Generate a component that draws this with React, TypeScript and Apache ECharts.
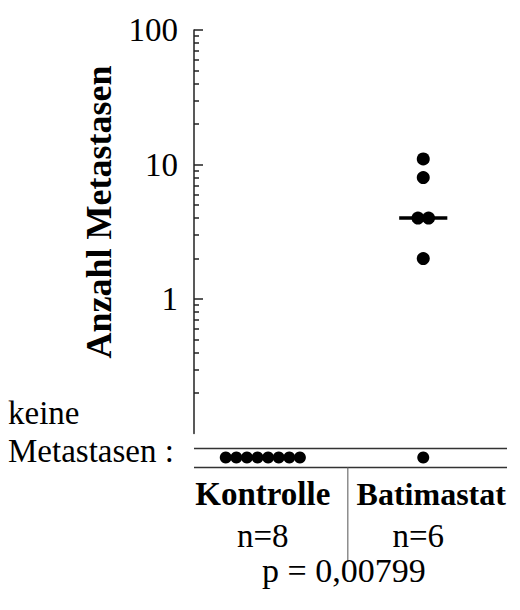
import React, { useEffect, useRef } from "react";
import * as echarts from "echarts";

const categories = ["Kontrolle", "Batimastat"];
const groupSizes = [8, 6];
const kontrolleValues = [0, 0, 0, 0, 0, 0, 0, 0];
const batimastatValues = [11, 8, 4, 4, 2, 0];
const medianValues = [0, 4];
const majorTickValues = [1, 10, 100];
const minorTickValues = [0.2, 0.3, 0.4, 0.5, 0.6, 0.7, 0.8, 0.9, 2, 3, 4, 5, 6, 7, 8, 9, 20, 30, 40, 50, 60, 70, 80, 90];
const zeroLabelLines = ["keine", "Metastasen :"];
const pText = "p = 0,00799";
const yTitle = "Anzahl Metastasen";

const FONT = "'Liberation Serif', 'Times New Roman', serif";
const XMIN = 0.571;
const XMAX = 2.522;
const DIVIDER_X = 1.53;
const SPREAD = 0.066;
const MEDIAN_HALF = 0.15;

function placeGroup(values: number[], center: number) {
  const counts: Record<number, number> = {};
  values.forEach((v) => (counts[v] = (counts[v] || 0) + 1));
  const seen: Record<number, number> = {};
  return values.map((v) => {
    const k = seen[v] || 0;
    seen[v] = k + 1;
    const off = (k - (counts[v] - 1) / 2) * SPREAD;
    return [center + off, v];
  });
}

export default function App() {
  const ref = useRef<HTMLDivElement>(null);
  useEffect(() => {
    document.body.style.margin = "0";
    const chart = echarts.init(ref.current!, null, { renderer: "svg" });
    const groups = [kontrolleValues, batimastatValues];
    const pts = groups.flatMap((vals, i) => placeGroup(vals, i + 1));
    const positive = pts.filter((p) => p[1] > 0).map((p) => [p[0], Math.log10(p[1])]);
    const zeros = pts.filter((p) => p[1] === 0).map((p) => [p[0], 0]);
    const medianSeries = medianValues
      .map((m, i) => ({ m, c: i + 1 }))
      .filter((o) => o.m > 0)
      .map((o) => ({
        type: "line",
        xAxisIndex: 0,
        yAxisIndex: 0,
        symbol: "none",
        lineStyle: { color: "#000", width: 3.5 },
        data: [
          [o.c - MEDIAN_HALF, Math.log10(o.m)],
          [o.c + MEDIAN_HALF, Math.log10(o.m)],
        ],
        z: 2,
      }));

    chart.setOption({
      animation: false,
      backgroundColor: "#fff",
      grid: [
        { left: 194, right: 13, top: 30, height: 403.5 },
        { left: 194, right: 13, top: 448, height: 19 },
      ],
      xAxis: [
        { gridIndex: 0, type: "value", min: XMIN, max: XMAX, show: false },
        {
          gridIndex: 1,
          type: "value",
          min: XMIN,
          max: XMAX,
          axisLine: { show: false },
          axisTick: { show: false },
          splitLine: { show: false },
          axisLabel: {
            customValues: [1, 2],
            margin: 6,
            formatter: (v: number) => {
              const i = Math.round(v) - 1;
              return i === 0
                ? `{k|${categories[i]}}\n{n|n=${groupSizes[i]}}`
                : `{k2|${categories[i]}}\n{n2|n=${groupSizes[i]}}`;
            },
            rich: {
              k: { fontFamily: FONT, fontWeight: "bold", fontSize: 33, lineHeight: 42, color: "#000" },
              k2: { fontFamily: FONT, fontWeight: "bold", fontSize: 32, lineHeight: 42, color: "#000", padding: [0, 0, 0, 16] },
              n: { fontFamily: FONT, fontSize: 33, lineHeight: 42, color: "#000" },
              n2: { fontFamily: FONT, fontSize: 33, lineHeight: 42, color: "#000", padding: [0, 10, 0, 0] },
            },
          },
        },
      ],
      yAxis: [
        {
          gridIndex: 0,
          type: "value",
          min: -1,
          max: 2,
          interval: 1,
          axisLine: { show: true, lineStyle: { color: "#222", width: 1.5 } },
          axisTick: {
            show: true,
            inside: true,
            length: 9,
            customValues: majorTickValues.map((v) => Math.log10(v)),
            lineStyle: { color: "#222", width: 1.5 },
          },
          axisLabel: {
            customValues: majorTickValues.map((v) => Math.log10(v)),
            margin: 16,
            fontFamily: FONT,
            fontSize: 33,
            color: "#000",
            formatter: (v: number) => String(Math.round(Math.pow(10, v))),
          },
          splitLine: { show: false },
        },
        {
          gridIndex: 0,
          type: "value",
          min: -1,
          max: 2,
          position: "left",
          axisLine: { show: false },
          axisTick: {
            show: true,
            inside: true,
            length: 5,
            customValues: minorTickValues.map((v) => Math.log10(v)),
            lineStyle: { color: "#222", width: 1.5 },
          },
          axisLabel: { show: false },
          splitLine: { show: false },
        },
        {
          gridIndex: 1,
          type: "value",
          min: -1,
          max: 1,
          interval: 2,
          axisLine: { show: false },
          axisTick: { show: false },
          axisLabel: { show: false },
          splitLine: { show: true, lineStyle: { color: "#333", width: 1.3 } },
        },
      ],
      series: [
        ...medianSeries,
        {
          type: "scatter",
          xAxisIndex: 0,
          yAxisIndex: 0,
          symbolSize: 13,
          itemStyle: { color: "#000", opacity: 1 },
          data: positive,
          z: 3,
        },
        {
          type: "scatter",
          xAxisIndex: 1,
          yAxisIndex: 2,
          symbolSize: 12,
          itemStyle: { color: "#000", opacity: 1 },
          data: zeros,
          z: 3,
        },
      ],
    });

    const dx = chart.convertToPixel({ xAxisIndex: 1 }, DIVIDER_X) as number;
    chart.setOption({
      graphic: [
        {
          type: "text",
          x: 99,
          y: 212,
          rotation: Math.PI / 2,
          style: {
            text: yTitle,
            fontFamily: FONT,
            fontWeight: "bold",
            fontSize: 36,
            fill: "#000",
            align: "center",
            verticalAlign: "middle",
          },
        },
        {
          type: "text",
          x: 8,
          y: 413,
          style: { text: zeroLabelLines[0], fontFamily: FONT, fontSize: 33, fill: "#000", align: "left", verticalAlign: "middle" },
        },
        {
          type: "text",
          x: 8,
          y: 451,
          style: { text: zeroLabelLines[1], fontFamily: FONT, fontSize: 33, fill: "#000", align: "left", verticalAlign: "middle" },
        },
        {
          type: "line",
          shape: { x1: dx, y1: 467, x2: dx, y2: 562 },
          style: { stroke: "#555", lineWidth: 1 },
        },
        {
          type: "text",
          x: dx - 4,
          y: 570,
          style: { text: pText, fontFamily: FONT, fontSize: 34, fill: "#000", align: "center", verticalAlign: "middle" },
        },
      ],
    });
    return () => chart.dispose();
  }, []);
  return <div ref={ref} style={{ width: 520, height: 610, position: "absolute", left: 0, top: 0 }} />;
}
